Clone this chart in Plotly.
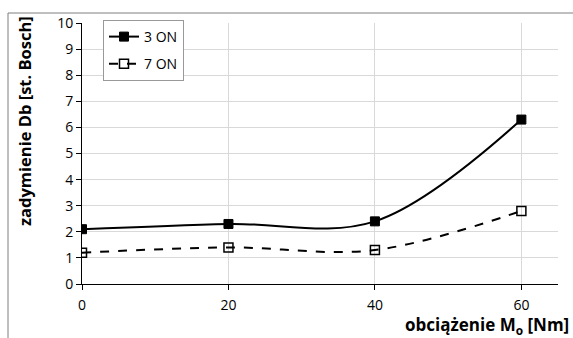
import plotly.graph_objects as go

x_vals = [0, 20, 40, 60]
s1_name = "3 ON"
s1_vals = [2.1, 2.3, 2.4, 6.3]
s2_name = "7 ON"
s2_vals = [1.2, 1.4, 1.3, 2.8]
y_ticks = list(range(0, 11))
x_ticks = [0, 20, 40, 60]

W, H = 573, 338
L, R, T, B = 82, 15, 23, 54
pw, ph = W - L - R, H - T - B

def px(xp):
    return (xp - L) / pw

def py(yp):
    return (H - B - yp) / ph

font = "Open Sans, Liberation Sans, sans-serif"

fig = go.Figure()
fig.add_trace(go.Scatter(
    x=x_vals, y=s1_vals, name=s1_name, mode="lines+markers", legendgroup="a",
    line=dict(color="black", width=2, shape="spline", smoothing=1.0),
    marker=dict(symbol="square", size=9, color="black", line=dict(color="black", width=1)),
))
fig.add_trace(go.Scatter(
    x=x_vals, y=s2_vals, name=s2_name, mode="lines+markers", legendgroup="b",
    line=dict(color="black", width=2, dash="dash", shape="spline", smoothing=1.0),
    marker=dict(symbol="square-open", size=9, color="black", line=dict(color="black", width=1.5)),
))

fig.update_layout(
    width=W, height=H,
    margin=dict(l=L, r=R, t=T, b=B),
    paper_bgcolor="white", plot_bgcolor="white",
    font=dict(family=font, size=14, color="black"),
    showlegend=True,
    legend=dict(x=px(103), y=py(20), xanchor="left", yanchor="top",
                bgcolor="white", bordercolor="#999999", borderwidth=1,
                font=dict(size=14), itemwidth=30, tracegroupgap=6,
                traceorder="grouped"),
    xaxis=dict(range=[0, 65], tickvals=x_ticks, showgrid=True, gridcolor="#d9d9d9",
               gridwidth=1, zeroline=False, showline=True, linecolor="black", linewidth=1,
               ticks="outside", ticklen=5, tickcolor="black", tickfont=dict(size=14),
               ticklabelstandoff=3),
    yaxis=dict(range=[0, 10], tickvals=y_ticks, showgrid=True, gridcolor="#d9d9d9",
               gridwidth=1, zeroline=False, showline=True, linecolor="black", linewidth=1,
               ticks="outside", ticklen=5, tickcolor="black", tickfont=dict(size=14)),
    annotations=[
        dict(text="<b>obciążenie M<sub>o</sub> [Nm]</b>", xref="paper", yref="paper",
             x=px(571), y=py(325), xanchor="right", yanchor="middle", showarrow=False,
             font=dict(size=17)),
        dict(text="<b>zadymienie Db [st. Bosch]</b>", xref="paper", yref="paper",
             x=px(25), y=py(121), xanchor="center", yanchor="middle", showarrow=False,
             textangle=-90, font=dict(size=16.5)),
    ],
    shapes=[
        dict(type="line", xref="paper", yref="paper", x0=px(8), x1=px(573), y0=py(13), y1=py(13),
             line=dict(color="#7f7f7f", width=1)),
        dict(type="line", xref="paper", yref="paper", x0=px(8), x1=px(8), y0=py(13), y1=py(338),
             line=dict(color="#7f7f7f", width=1)),
    ],
)

fig.write_html("out.html", config={"displayModeBar": False},
               post_script="document.body.style.margin='0';")
